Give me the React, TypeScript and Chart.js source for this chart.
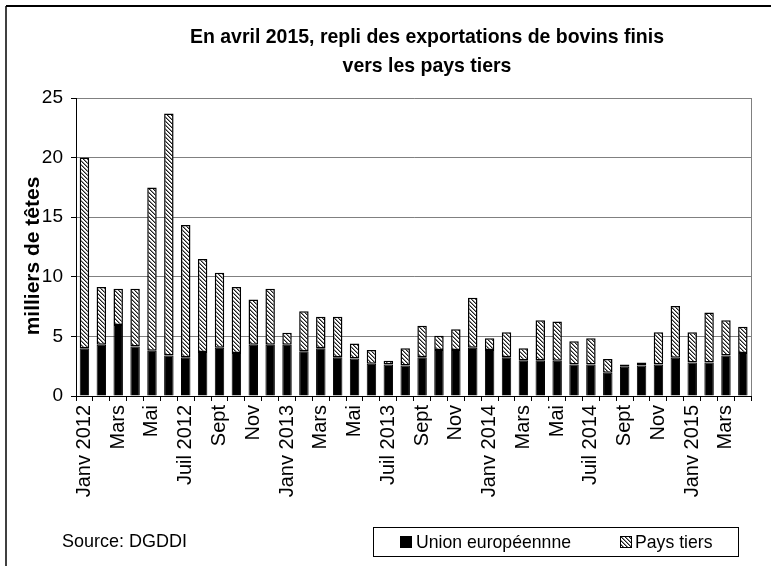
import React, { useEffect, useRef } from "react";
import { Chart, registerables } from "chart.js";
Chart.register(...registerables);

const categories = [
  "Janv 2012", "Févr", "Mars", "Avr", "Mai", "Juin", "Juil 2012", "Août", "Sept", "Oct", "Nov", "Déc",
  "Janv 2013", "Févr", "Mars", "Avr", "Mai", "Juin", "Juil 2013", "Août", "Sept", "Oct", "Nov", "Déc",
  "Janv 2014", "Févr", "Mars", "Avr", "Mai", "Juin", "Juil 2014", "Août", "Sept", "Oct", "Nov", "Déc",
  "Janv 2015", "Févr", "Mars", "Avr",
];

const unionEuropeenne = [
  4.0, 4.3, 5.95, 4.15, 3.8, 3.4, 3.25, 3.7, 4.05, 3.6, 4.3, 4.3,
  4.3, 3.75, 4.0, 3.25, 3.15, 2.7, 2.65, 2.55, 3.25, 3.85, 3.85, 4.05,
  3.85, 3.25, 3.0, 3.0, 2.95, 2.65, 2.65, 1.95, 2.45, 2.55, 2.65, 3.2,
  2.8, 2.8, 3.4, 3.6,
];

const paysTiers = [
  16.0, 4.85, 3.05, 4.85, 13.7, 20.3, 11.1, 7.8, 6.3, 5.55, 3.8, 4.7,
  1.0, 3.35, 2.65, 3.4, 1.25, 1.15, 0.3, 1.45, 2.65, 1.2, 1.75, 4.2,
  1.0, 2.1, 1.0, 3.35, 3.3, 1.95, 2.2, 1.15, 0.2, 0.25, 2.7, 4.35,
  2.55, 4.2, 2.95, 2.2,
];

const yTicks = [0, 5, 10, 15, 20, 25];

const titleLines = ["En avril 2015, repli des exportations de bovins finis", "vers les pays tiers"];
const yTitle = "milliers de têtes";
const sourceText = "Source: DGDDI";
const seriesNames = ["Union européennne", "Pays tiers"];

const FONT = "'Liberation Sans', Arial, sans-serif";

function makeHatch(): CanvasPattern | string {
  const c = document.createElement("canvas");
  c.width = 4;
  c.height = 4;
  const g = c.getContext("2d");
  if (!g) return "#999";
  const img = g.createImageData(4, 4);
  for (let y = 0; y < 4; y++) {
    for (let x = 0; x < 4; x++) {
      const i = (y * 4 + x) * 4;
      const d = (x - y + 8) % 4;
      const v = d === 0 ? 30 : d === 1 ? 140 : 255;
      img.data[i] = v;
      img.data[i + 1] = v;
      img.data[i + 2] = v;
      img.data[i + 3] = 255;
    }
  }
  g.putImageData(img, 0, 0);
  const p = g.createPattern(c, "repeat");
  return p || "#999";
}

function drawScaled(ctx: any, text: string, x: number, y: number, sx: number, align: string) {
  ctx.save();
  ctx.translate(x, y);
  ctx.scale(sx, 1);
  ctx.textAlign = align;
  ctx.fillText(text, 0, 0);
  ctx.restore();
}

export default function App() {
  const ref = useRef<HTMLCanvasElement | null>(null);

  useEffect(() => {
    const canvas = ref.current;
    if (!canvas) return;
    const hatch = makeHatch();

    const decor = {
      id: "decor",
      beforeDraw(chart: any) {
        const ctx = chart.ctx;
        ctx.save();
        ctx.fillStyle = "#fff";
        ctx.fillRect(0, 0, chart.width, chart.height);
        ctx.restore();
      },
      afterDraw(chart: any) {
        const ctx = chart.ctx;
        const a = chart.chartArea;
        ctx.save();
        // plot area right border
        ctx.strokeStyle = "#808080";
        ctx.lineWidth = 1;
        ctx.beginPath();
        ctx.moveTo(Math.round(a.right) + 0.5, a.top);
        ctx.lineTo(Math.round(a.right) + 0.5, a.bottom);
        ctx.stroke();
        // outer frame
        ctx.strokeStyle = "#000";
        ctx.lineWidth = 2;
        ctx.beginPath();
        ctx.moveTo(6, 6);
        ctx.lineTo(chart.width, 6);
        ctx.stroke();
        ctx.lineWidth = 1.5;
        ctx.beginPath();
        ctx.moveTo(6, 6);
        ctx.lineTo(6, chart.height);
        ctx.stroke();
        // title (condensed)
        ctx.fillStyle = "#000";
        ctx.textBaseline = "middle";
        ctx.font = `bold 21px ${FONT}`;
        const w1 = ctx.measureText(titleLines[0]).width;
        const sxT = 474 / w1;
        drawScaled(ctx, titleLines[0], 427, 37, sxT, "center");
        drawScaled(ctx, titleLines[1], 427, 66, sxT, "center");
        // y-axis title
        ctx.save();
        ctx.translate(33, 256);
        ctx.rotate(-Math.PI / 2);
        ctx.textAlign = "center";
        ctx.font = `bold 21px ${FONT}`;
        ctx.fillText(yTitle, 0, 0);
        ctx.restore();
        // source
        ctx.font = `19px ${FONT}`;
        const ws = ctx.measureText(sourceText).width;
        drawScaled(ctx, sourceText, 62, 542, 125 / ws, "left");
        // legend box
        ctx.lineWidth = 1;
        ctx.strokeStyle = "#000";
        ctx.strokeRect(373.5, 527.5, 365, 29);
        ctx.fillStyle = "#000";
        ctx.fillRect(400, 536, 12, 12);
        ctx.fillStyle = hatch as any;
        ctx.fillRect(620, 536, 12, 12);
        ctx.strokeRect(620.5, 536.5, 11, 11);
        ctx.fillStyle = "#000";
        ctx.font = `19px ${FONT}`;
        const wl = ctx.measureText(seriesNames[0]).width;
        const sxL = 155 / wl;
        drawScaled(ctx, seriesNames[0], 416, 543, sxL, "left");
        drawScaled(ctx, seriesNames[1], 635, 543, sxL, "left");
        ctx.restore();
      },
    };

    const chart = new Chart(canvas, {
      type: "bar",
      data: {
        labels: categories,
        datasets: [
          {
            label: seriesNames[0],
            data: unionEuropeenne,
            backgroundColor: "#000",
            borderColor: "#000",
            borderWidth: 1,
            categoryPercentage: 1,
            barPercentage: 0.56,
          },
          {
            label: seriesNames[1],
            data: paysTiers,
            backgroundColor: hatch as any,
            borderColor: "#000",
            borderWidth: 1.5,
            borderSkipped: false,
            categoryPercentage: 1,
            barPercentage: 0.56,
          },
        ],
      },
      options: {
        responsive: false,
        animation: false,
        devicePixelRatio: 1,
        layout: { padding: { left: 0, top: 98, right: 12, bottom: 0 } },
        plugins: {
          legend: { display: false },
          tooltip: { enabled: false },
          title: { display: false },
        },
        scales: {
          x: {
            stacked: true,
            offset: true,
            grid: {
              offset: true,
              drawOnChartArea: false,
              drawTicks: true,
              tickLength: 5,
              tickColor: "#000",
            },
            border: { color: "#000", width: 1 },
            ticks: {
              autoSkip: false,
              maxRotation: 90,
              minRotation: 90,
              padding: 4,
              color: "#000",
              font: { family: FONT, size: 20 },
              callback: (_v: any, i: number) => (i % 2 === 0 ? categories[i] : ""),
            },
            afterFit: (s: any) => {
              s.height = 170;
            },
          },
          y: {
            stacked: true,
            min: yTicks[0],
            max: yTicks[yTicks.length - 1],
            afterBuildTicks: (s: any) => {
              s.ticks = yTicks.map((v) => ({ value: v }));
            },
            grid: {
              color: "#808080",
              lineWidth: 1,
              tickLength: 5,
              tickColor: "#000",
            },
            border: { color: "#000", width: 1 },
            ticks: {
              padding: 8,
              color: "#000",
              font: { family: FONT, size: 19 },
            },
            title: { display: false },
            afterFit: (s: any) => {
              s.width = 76;
            },
          },
        },
      },
      plugins: [decor],
    });

    return () => chart.destroy();
  }, []);

  return (
    <div style={{ position: "absolute", left: 0, top: 0, width: 771, height: 566 }}>
      <canvas ref={ref} width={771} height={566} style={{ display: "block", width: 771, height: 566 }} />
    </div>
  );
}
